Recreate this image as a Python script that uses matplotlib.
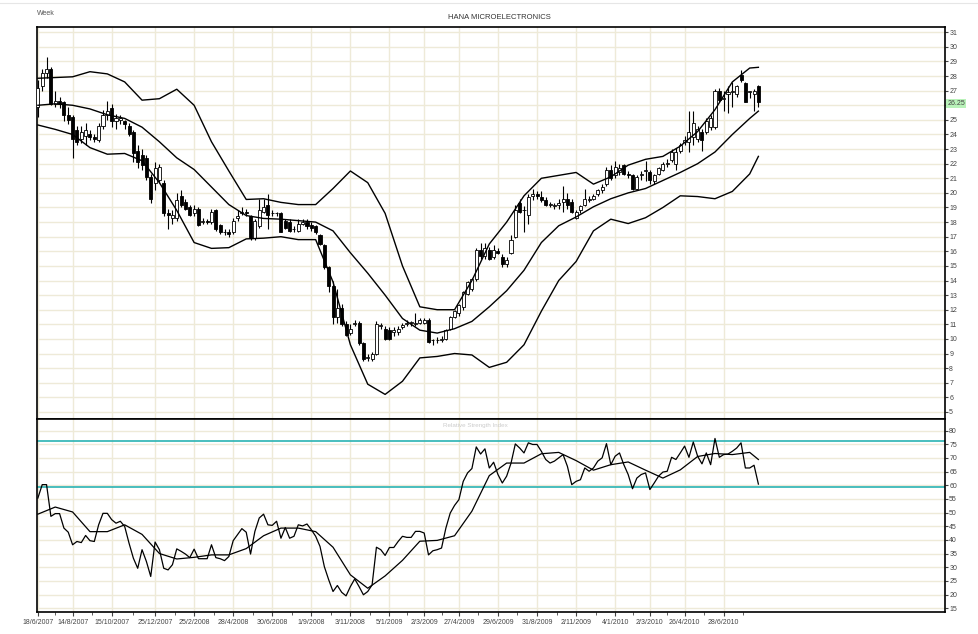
import matplotlib
matplotlib.use("Agg")
import numpy as np
import pandas as pd
import matplotlib.pyplot as plt

plt.rcParams["font.family"] = ["Liberation Sans", "DejaVu Sans"]

# weekly bars, first bar = week of 18/6/2007
START = pd.Timestamp("2007-06-18")

opens = [25.9, 27.3, 28.2, 28.5, 26.1, 26.3, 26.2, 25.3, 25.2, 24.3,
         23.7, 23.9, 24.0, 23.8, 23.6, 24.6, 25.3, 25.8, 24.9, 25.0,
         24.9, 24.6, 24.2, 22.9, 22.6, 22.4, 21.1, 20.7, 20.9, 20.7,
         18.6, 18.3, 18.3, 19.8, 19.4, 19.0, 18.6, 18.9, 18.0, 18.1,
         18.0, 18.8, 17.8, 17.3, 17.3, 17.3, 18.3, 18.6, 18.7, 18.4,
         16.9, 17.7, 18.7, 19.2, 18.6, 18.6, 18.6, 18.1, 18.0, 17.5,
         17.4, 17.9, 18.0, 17.8, 17.7, 17.1, 16.4, 14.9, 13.6, 11.5,
         12.1, 11.0, 10.4, 11.0, 11.1, 9.7, 8.7, 8.6, 9.0, 10.9,
         10.7, 10.6, 10.5, 10.5, 10.8, 11.0, 11.1, 11.0, 11.1, 11.1,
         11.3, 9.9, 9.9, 9.9, 10.0, 10.7, 11.5, 11.75, 12.2, 13.1,
         13.4, 14.1, 16.1, 15.7, 16.1, 15.6, 16.0, 15.6, 15.1, 15.9,
         17.0, 19.3, 18.8, 18.5, 19.8, 19.9, 19.7, 19.5, 19.2, 19.1,
         19.2, 19.4, 19.6, 19.4, 18.3, 18.8, 19.2, 19.5, 19.6, 19.9,
         20.2, 20.6, 21.6, 21.2, 21.4, 21.9, 21.3, 21.2, 20.3, 21.2,
         21.5, 21.45, 20.8, 21.3, 21.6, 22.0, 22.25, 22.0, 22.9, 23.5,
         23.5, 23.85, 23.7, 24.2, 24.2, 24.5, 24.5, 27.0, 26.4, 26.8,
         26.9, 26.8, 28.1, 27.5, 26.9, 26.8, 27.3]
highs = [27.7, 28.5, 29.3, 28.6, 27.0, 26.6, 26.3, 25.9, 25.3, 24.6,
         24.6, 24.8, 24.3, 24.0, 24.8, 25.7, 26.3, 26.1, 25.4, 25.3,
         25.0, 24.8, 24.3, 23.3, 23.0, 22.6, 21.3, 22.1, 22.0, 20.9,
         18.9, 18.8, 20.0, 20.2, 19.6, 19.2, 19.2, 19.0, 18.3, 18.2,
         18.9, 18.9, 17.9, 17.5, 17.5, 18.3, 18.8, 19.0, 18.9, 18.5,
         18.2, 19.6, 19.6, 19.9, 18.8, 18.7, 18.7, 18.2, 18.2, 17.7,
         18.2, 18.2, 18.2, 18.0, 17.8, 17.2, 16.5, 15.0, 14.0, 13.4,
         12.4, 11.2, 11.0, 11.3, 11.2, 9.8, 9.0, 9.1, 11.2, 11.1,
         10.9, 10.8, 10.8, 10.9, 11.1, 11.3, 11.2, 11.8, 11.4, 11.4,
         11.4, 10.0, 10.1, 10.2, 10.7, 11.6, 12.0, 12.4, 13.3, 14.0,
         14.2, 16.2, 16.6, 16.6, 16.3, 16.4, 16.2, 15.8, 15.6, 17.1,
         19.2, 19.6, 19.1, 19.9, 20.3, 20.1, 20.1, 19.7, 19.4, 19.3,
         19.6, 20.5, 20.0, 19.6, 18.8, 19.2, 20.3, 19.8, 19.9, 20.3,
         20.6, 21.8, 21.9, 22.2, 22.0, 22.0, 21.5, 21.3, 21.2, 21.5,
         22.2, 21.6, 21.3, 21.8, 22.1, 22.3, 23.0, 23.1, 23.4, 23.9,
         25.6, 25.6, 24.6, 24.4, 25.1, 25.3, 27.1, 27.2, 27.0, 27.3,
         27.6, 27.4, 28.4, 27.6, 27.0, 27.1, 27.4]
lows = [25.2, 27.0, 27.9, 26.0, 25.9, 25.8, 24.9, 24.7, 22.4, 23.3,
        23.4, 23.3, 23.6, 23.5, 23.5, 24.4, 25.0, 24.5, 24.4, 24.7,
        24.4, 23.9, 22.1, 21.7, 21.6, 20.9, 19.3, 20.2, 20.7, 18.4,
        17.5, 17.9, 18.1, 19.0, 18.8, 18.4, 18.4, 17.7, 17.9, 17.9,
        17.9, 17.4, 17.2, 17.1, 17.0, 17.2, 18.1, 18.5, 18.4, 16.8,
        16.8, 17.6, 18.6, 17.5, 18.4, 18.4, 17.3, 17.5, 17.3, 17.3,
        17.3, 17.8, 17.5, 17.4, 17.2, 16.4, 14.8, 13.2, 11.0, 11.1,
        10.9, 10.2, 10.3, 10.9, 9.6, 8.5, 8.5, 8.5, 8.9, 10.7,
        9.9, 9.9, 10.2, 10.3, 10.7, 10.9, 10.9, 10.9, 11.0, 11.0,
        9.7, 9.6, 9.7, 9.8, 9.9, 10.6, 11.4, 11.6, 12.0, 13.0,
        13.3, 14.0, 15.5, 15.5, 15.4, 15.5, 15.8, 14.9, 14.9, 15.8,
        16.9, 18.6, 17.3, 17.9, 19.5, 19.6, 19.4, 19.1, 19.0, 18.9,
        18.9, 18.7, 18.9, 18.6, 18.2, 18.6, 19.1, 19.4, 19.5, 19.8,
        20.0, 20.5, 20.9, 21.0, 21.2, 21.2, 21.0, 20.2, 20.2, 20.9,
        20.8, 20.6, 20.6, 21.2, 21.5, 21.8, 22.1, 21.6, 22.7, 23.3,
        22.8, 23.3, 23.5, 22.9, 24.0, 24.3, 24.4, 26.2, 25.6, 25.5,
        25.9, 26.6, 27.6, 26.2, 26.5, 25.6, 25.9]
closes = [27.2, 28.2, 28.5, 26.1, 26.3, 26.1, 25.3, 25.0, 23.7, 23.5,
          24.2, 24.3, 23.8, 23.7, 24.6, 25.3, 25.6, 24.9, 25.1, 25.1,
          24.7, 24.0, 22.7, 22.1, 21.9, 21.1, 19.6, 21.7, 21.8, 18.6,
          18.5, 18.5, 19.5, 19.2, 18.9, 18.5, 18.9, 17.8, 18.1, 18.0,
          18.7, 17.5, 17.3, 17.3, 17.2, 18.1, 18.4, 18.7, 18.6, 16.9,
          18.1, 18.8, 19.0, 18.5, 18.6, 18.6, 17.3, 17.6, 17.4, 17.5,
          17.9, 18.0, 17.7, 17.6, 17.3, 16.5, 14.9, 13.6, 11.5, 12.1,
          11.0, 10.3, 10.7, 11.1, 9.7, 8.6, 8.7, 9.0, 11.0, 10.9,
          10.0, 10.0, 10.6, 10.7, 10.95, 11.1, 11.1, 11.1, 11.3, 11.3,
          9.8, 9.9, 9.9, 10.0, 10.6, 11.5, 11.9, 12.3, 13.2, 13.9,
          14.1, 16.1, 15.7, 16.2, 15.5, 16.1, 15.9, 15.1, 15.4, 16.8,
          18.8, 18.7, 18.8, 19.7, 19.9, 19.8, 19.5, 19.2, 19.2, 19.1,
          19.3, 19.6, 19.2, 18.7, 18.7, 19.1, 19.6, 19.6, 19.8, 20.2,
          20.4, 21.6, 21.0, 21.8, 21.7, 21.3, 21.2, 20.3, 21.1, 21.3,
          21.6, 20.9, 21.2, 21.7, 22.0, 22.0, 22.8, 22.8, 23.3, 23.6,
          24.2, 24.8, 24.4, 23.6, 24.9, 25.1, 27.0, 26.35, 26.5, 26.9,
          26.9, 27.3, 27.7, 26.25, 26.9, 27.0, 26.25]

# Bollinger bands read at every 4th week
band_idx = [0, 4, 8, 12, 16, 20, 24, 28, 32, 36, 40, 44, 48, 52, 56, 60,
            64, 68, 72, 76, 80, 84, 88, 92, 96, 100, 104, 108, 112, 116,
            120, 124, 128, 132, 136, 140, 144, 148, 152, 156, 160, 164, 166]
bb_upper = [27.85, 27.9, 27.95, 28.3, 28.15, 27.6, 26.35, 26.45, 27.1, 26.0,
            23.5, 21.5, 19.55, 19.6, 19.35, 19.2, 19.2, 20.3, 21.5, 20.7,
            18.6, 15.0, 12.2, 12.0, 12.0, 14.0, 16.5, 18.0, 19.8, 21.0,
            21.2, 21.4, 20.6, 21.1, 21.9, 22.3, 22.5, 23.2, 24.2, 25.7,
            27.6, 28.55, 28.6]
bb_middle = [26.0, 26.1, 26.0, 25.75, 25.35, 25.1, 24.5, 23.5, 22.4, 21.6,
             20.4, 19.2, 18.45, 18.25, 18.2, 18.1, 18.0, 17.4, 15.9, 14.5,
             13.0, 11.4, 10.6, 10.4, 10.7, 11.2, 12.2, 13.3, 14.7, 16.6,
             17.75, 18.35, 19.05, 19.6, 20.0, 20.3, 20.85, 21.4, 22.0, 22.8,
             24.0, 25.1, 25.6]
bb_lower = [24.65, 24.35, 24.0, 23.1, 22.65, 22.7, 22.2, 20.7, 18.8, 16.6,
            16.2, 16.25, 16.85, 16.9, 17.0, 16.8, 16.8, 13.9, 9.6, 6.9,
            6.2, 7.1, 8.7, 8.8, 9.0, 8.9, 8.05, 8.4, 9.6, 11.9,
            14.0, 15.3, 17.4, 18.2, 17.9, 18.3, 19.0, 19.8, 19.75, 19.6,
            20.1, 21.3, 22.5]

rsi = [55.3, 60.2, 60.2, 48.6, 49.6, 49.6, 44.3, 42.8, 38.2, 39.4,
       39.0, 41.6, 39.7, 39.4, 45.5, 49.7, 49.7, 47.4, 46.1, 46.8,
       44.9, 38.8, 33.3, 29.6, 36.4, 32.1, 26.6, 39.2, 36.4, 29.6,
       29.0, 30.9, 36.7, 35.8, 34.8, 33.5, 36.6, 33.1, 33.1, 33.1,
       38.2, 33.5, 33.1, 32.4, 33.9, 39.7, 41.9, 44.1, 42.8, 34.8,
       43.1, 48.0, 49.4, 45.5, 45.3, 46.8, 40.6, 44.5, 40.6, 41.3,
       45.5, 45.1, 45.8, 43.7, 41.3, 37.6, 30.2, 25.4, 21.1, 23.3,
       20.8, 19.5, 22.9, 25.7, 22.9, 19.9, 21.1, 23.5, 37.3, 36.4,
       34.3, 37.2, 37.2, 39.4, 41.3, 40.9, 40.9, 43.1, 43.1, 42.5,
       34.5, 36.0, 36.4, 37.0, 44.3, 49.8, 52.6, 54.7, 61.4, 64.5,
       66.1, 74.0, 71.4, 73.3, 66.3, 68.4, 63.9, 60.8, 63.3, 68.0,
       75.1, 73.6, 71.8, 75.5, 74.9, 74.9, 72.4, 69.4, 68.1, 68.8,
       70.0, 71.2, 66.9, 60.2, 61.4, 62.0, 66.3, 65.1, 66.3, 68.8,
       70.0, 75.2, 67.5, 70.6, 71.8, 67.5, 63.9, 58.7, 62.6, 63.9,
       64.5, 58.4, 60.8, 63.3, 64.8, 65.1, 70.2, 69.4, 71.8, 74.3,
       70.2, 75.8, 70.6, 67.8, 71.8, 67.5, 77.1, 70.2, 71.2, 71.4,
       72.4, 73.6, 75.5, 66.3, 66.3, 67.3, 60.4]
rsi_ma = [49.4, 52.0, 50.2, 43.0, 43.0, 45.5, 42.0, 35.0, 33.0, 33.6,
          34.5, 34.5, 36.8, 41.5, 44.3, 44.3, 43.0, 37.3, 27.2, 22.3,
          26.8, 32.5, 39.5, 39.8, 41.5, 50.5, 63.5, 68.1, 68.1, 71.5,
          72.0, 69.0, 65.5, 67.5, 68.5, 65.5, 62.6, 65.6, 70.5, 71.6,
          71.2, 72.0, 69.4]
rsi_levels = [76.0, 59.5]

date_labels = ["18/6/2007", "14/8/2007", "15/10/2007", "25/12/2007", "25/2/2008",
               "28/4/2008", "30/6/2008", "1/9/2008", "3/11/2008", "5/1/2009",
               "2/3/2009", "27/4/2009", "29/6/2009", "31/8/2009", "2/11/2009",
               "4/1/2010", "2/3/2010", "26/4/2010", "28/6/2010"]
last_price = 26.25

GRID = "#eeead8"
TXT = "#444444"

x = np.arange(len(closes))
o, h, l, c = map(np.array, (opens, highs, lows, closes))
tick_pos = [(pd.to_datetime(d, dayfirst=True) - START).days // 7 for d in date_labels]

fig = plt.figure(figsize=(9.79, 6.34), dpi=100)
ax = fig.add_axes([0.0378, 0.3399, 0.9275, 0.6175])
ax2 = fig.add_axes([0.0378, 0.0347, 0.9275, 0.3052], sharex=ax)

# --- price panel ---------------------------------------------------------- #
for yv in range(5, 32):
    ax.axhline(yv, color=GRID, lw=1, zorder=0)
for tp in tick_pos:
    ax.axvline(tp, color=GRID, lw=1, zorder=0)
    ax2.axvline(tp, color=GRID, lw=1, zorder=0)

ax.vlines(x, l, h, color="black", lw=0.8, zorder=2)
up = c >= o
body_h = np.maximum(np.abs(c - o), 0.05)
ax.bar(x[up], body_h[up], bottom=o[up], width=0.7, color="white",
       edgecolor="black", lw=0.6, zorder=3)
ax.bar(x[~up], body_h[~up], bottom=c[~up], width=0.7, color="black",
       edgecolor="black", lw=0.6, zorder=3)

for band in (bb_upper, bb_middle, bb_lower):
    ax.plot(band_idx, band, color="black", lw=1.0, zorder=4)

ax.set_xlim(-0.2, 209)
ax.set_ylim(4.55, 31.36)
ax.yaxis.tick_right()
ax.set_yticks(range(5, 32))
ax.set_yticklabels(["" if v == 26 else str(v) for v in range(5, 32)])
ax.tick_params(axis="y", labelsize=5, colors=TXT, length=2, pad=1)
ax.tick_params(axis="x", bottom=False, labelbottom=False)
ax.text(1.0025, last_price - 0.12, f"{last_price:.2f}", transform=ax.get_yaxis_transform(),
        fontsize=5, color=TXT, va="center", ha="left",
        bbox=dict(boxstyle="square,pad=0.15", facecolor="#b9f2b9", edgecolor="none"))

# --- RSI panel ------------------------------------------------------------ #
for yv in range(15, 85, 5):
    ax2.axhline(yv, color=GRID, lw=1, zorder=0)
for lv in rsi_levels:
    ax2.axhline(lv, color="#2ab3b3", lw=1.2, zorder=1)
ax2.plot(x, rsi, color="black", lw=0.9, zorder=3)
ax2.plot(band_idx, rsi_ma, color="black", lw=0.9, zorder=3)
ax2.set_ylim(13.6, 84.4)
ax2.yaxis.tick_right()
ax2.set_yticks(range(15, 85, 5))
ax2.tick_params(axis="y", labelsize=5, colors=TXT, length=2, pad=1)
ax2.set_xticks(tick_pos)
ax2.set_xticklabels(date_labels)
mids = [(a + b) / 2 for a, b in zip(tick_pos[:-1], tick_pos[1:])]
ax2.set_xticks(mids + [tick_pos[-1] + 4.5], minor=True)
ax2.tick_params(axis="x", which="both", labelsize=5, colors=TXT, length=3, pad=2)
ax2.tick_params(axis="x", which="minor", length=2)
ax2.text(0.483, 0.975, "Relative Strength Index", transform=ax2.transAxes,
         fontsize=4.5, color="#cccccc", ha="center", va="top")

for a in (ax, ax2):
    for s in a.spines.values():
        s.set_linewidth(1.2)

fig.text(0.038, 0.978, "Week", fontsize=5, color="#555555", ha="left", va="center")
fig.text(0.51, 0.973, "HANA MICROELECTRONICS", fontsize=5.5, color="#333333",
         ha="center", va="center")
fig.add_artist(plt.Line2D([0.0, 1.0], [0.995, 0.995], color="#e6e6e6", lw=0.8))

fig.savefig("out.png", dpi=100)
